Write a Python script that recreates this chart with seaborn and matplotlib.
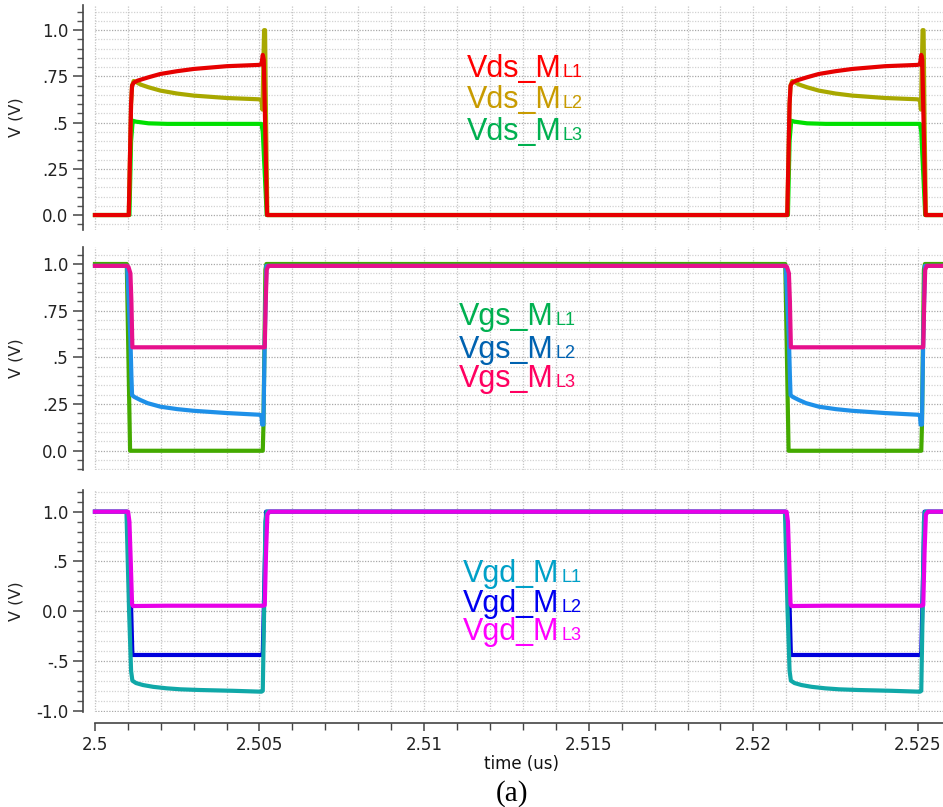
import numpy as np
import pandas as pd
import matplotlib
matplotlib.use("Agg")
import matplotlib.pyplot as plt
from matplotlib.ticker import MultipleLocator, FixedLocator, FixedFormatter
import seaborn as sns

# ---------------- data ----------------
pulse_starts = [2.501, 2.521]          # us, start of each pulse
t_first, t_last = 2.49994, 2.5260      # us, ends of the traces

# Panel 1 : Vds  (time after pulse start in us, voltage in V)
vds1_dt = [0.00003, 0.00010, 0.00013, 0.00018, 0.00030, 0.00063, 0.00099, 0.0015, 0.0020, 0.0030, 0.00398, 0.00406, 0.00410, 0.00413, 0.00423]
vds1_v  = [0.0,     0.60,    0.700,   0.716,   0.727,   0.745,   0.763,   0.778,  0.790,  0.805,  0.812,   0.815,   0.866,   0.84,    0.0]
vds2_dt = [0.00003, 0.00010, 0.00013, 0.00018, 0.00023, 0.00040, 0.00063, 0.00099, 0.0015, 0.0020, 0.0030, 0.00398, 0.00406, 0.00409, 0.00414, 0.00417, 0.00420, 0.00424]
vds2_v  = [0.0,     0.60,    0.700,   0.725,   0.721,   0.705,   0.691,   0.673,   0.657,  0.646,  0.633,  0.626,   0.620,   0.57,    1.0,     1.0,     0.5,     0.0]
vds3_dt = [0.00005, 0.00010, 0.00015, 0.00025, 0.00063, 0.00120, 0.00406, 0.00410, 0.00422]
vds3_v  = [0.0,     0.40,    0.510,   0.505,   0.496,   0.493,   0.493,   0.45,    0.0]

# Panel 2 : Vgs
vgs1_dt = [-0.00005, -0.00003, 0.00007, 0.00410, 0.00412, 0.00418, 0.00421]
vgs1_v  = [1.0,      1.0,      0.0,     0.0,     0.13,    0.97,    1.0]
vgs2_dt = [-0.00002, 0.00008, 0.00011, 0.00013, 0.00020, 0.00038, 0.00060, 0.00099, 0.0015, 0.0020, 0.0030, 0.00398, 0.00406, 0.00408, 0.00412, 0.00416, 0.00421]
vgs2_v  = [0.99,     0.60,    0.40,    0.298,   0.288,   0.272,   0.255,   0.236,   0.223,  0.214,  0.202,  0.193,   0.190,   0.14,    0.14,    0.60,    0.99]
vgs3_dt = [-0.00002, 0.00002, 0.00008, 0.00011, 0.00014, 0.00416, 0.00419, 0.00422, 0.00427]
vgs3_v  = [0.99,     0.985,   0.95,    0.80,    0.554,   0.554,   0.80,    0.97,    0.99]

# Panel 3 : Vgd
vgd1_dt = [-0.00004, 0.00004, 0.00010, 0.00014, 0.00025, 0.00046, 0.00077, 0.00118, 0.0016, 0.00219, 0.0032, 0.00406, 0.00410, 0.00414, 0.00418, 0.00422]
vgd1_v  = [1.0,      0.0,     -0.60,   -0.698,  -0.722,  -0.742,  -0.760,  -0.775,  -0.785, -0.792,  -0.800, -0.809,  -0.80,   0.0,     0.9,     1.0]
vgd2_dt = [-0.00002, 0.00008, 0.00014, 0.00405, 0.00410, 0.00415, 0.00420]
vgd2_v  = [1.0,      0.30,    -0.44,   -0.44,   -0.43,   0.30,    1.0]
vgd3_dt = [0.00001, 0.00005, 0.00009, 0.00013, 0.00016, 0.00119, 0.00410, 0.00416, 0.00420, 0.00424, 0.00430]
vgd3_v  = [1.0,     0.90,    0.50,    0.07,    0.052,   0.055,   0.055,   0.06,    0.60,    0.97,    1.0]

base_vds, base_vgs, base_vgs23, base_vgd = 0.0, 1.0, 0.99, 1.0

x_major_ticks = [2.5, 2.505, 2.51, 2.515, 2.52, 2.525]
x_tick_labels = ["2.5", "2.505", "2.51", "2.515", "2.52", "2.525"]
y_ticks_12 = [0.0, 0.25, 0.5, 0.75, 1.0]
y_labels_12 = ["0.0", ".25", ".5", ".75", "1.0"]
y_ticks_3 = [-1.0, -0.5, 0.0, 0.5, 1.0]
y_labels_3 = ["-1.0", "-.5", "0.0", ".5", "1.0"]

legend_names = [["Vds_M", "Vds_M", "Vds_M"], ["Vgs_M", "Vgs_M", "Vgs_M"], ["Vgd_M", "Vgd_M", "Vgd_M"]]
legend_subs = ["L1", "L2", "L3"]

# ---------------- styling ----------------
line_colors = [["#e60000", "#a8a800", "#00e000"],
               ["#44aa00", "#1e90e8", "#e6108c"],
               ["#10a8a8", "#0000dd", "#e800e8"]]
text_colors = [["#ff0000", "#c89b00", "#00b050"],
               ["#00b050", "#0062b0", "#ff0060"],
               ["#00a0c8", "#0000f0", "#ff00ff"]]
draw_orders = [[2, 1, 0], [0, 1, 2], [1, 0, 2]]


def build(dt, v, base, name):
    t = [t_first]
    vals = [base]
    for s in pulse_starts:
        t += [s + d for d in dt]
        vals += list(v)
    t.append(t_last)
    vals.append(base)
    return pd.DataFrame({"t": t, "v": vals, "name": name})


panels = [
    [(vds1_dt, vds1_v, base_vds), (vds2_dt, vds2_v, base_vds), (vds3_dt, vds3_v, base_vds)],
    [(vgs1_dt, vgs1_v, base_vgs), (vgs2_dt, vgs2_v, base_vgs23), (vgs3_dt, vgs3_v, base_vgs23)],
    [(vgd1_dt, vgd1_v, base_vgd), (vgd2_dt, vgd2_v, base_vgd), (vgd3_dt, vgd3_v, base_vgd)],
]

sns.set_style("white")
plt.rcParams["font.family"] = ["DejaVu Sans"]

W, H = 943, 807
fig = plt.figure(figsize=(W / 100, H / 100), dpi=100)

# axes rectangles in pixels (left, top, right, bottom)
rects = [(83, 5, 943, 230), (83, 247, 943, 470), (83, 490, 943, 712)]
ylims = [(-0.081, 1.136), (-0.103, 1.091), (-1.013, 1.218)]
xlim = (2.49964, 2.52576)

legend_left = [466.7, 459.3, 463.3]
legend_baselines = [[77.3, 108.3, 140.0], [325.0, 358.3, 386.7], [581.7, 611.7, 640.0]]

axes = []
for i, (l, t, r, b) in enumerate(rects):
    ax = fig.add_axes([l / W, 1 - b / H, (r - l) / W, (b - t) / H])
    axes.append(ax)
    ax.set_xlim(*xlim)
    ax.set_ylim(*ylims[i])
    minor_y = 0.05 if i < 2 else 0.1
    major_y = 0.25 if i < 2 else 0.5
    # horizontal dotted grid from 2.5 onwards
    yv = np.arange(-1.2, 1.3, minor_y)
    yv = yv[(yv >= ylims[i][0]) & (yv <= ylims[i][1])]
    for y in yv:
        major = abs(y / major_y - round(y / major_y)) < 1e-6
        ax.plot([2.5, xlim[1]], [y, y], ls=(0, (1.0, 1.2)),
                color="#a8a8a8" if major else "#d2d2d2", lw=0.9, zorder=0)
    ax.xaxis.set_minor_locator(MultipleLocator(0.001))
    ax.xaxis.set_major_locator(FixedLocator(x_major_ticks))
    ax.grid(axis="x", which="both", color="#c4c4c4", ls=(0, (1.0, 1.2)), lw=0.9)
    ax.set_axisbelow(True)

    for k in draw_orders[i]:
        dt, v, base = panels[i][k]
        df = build(dt, v, base, f"s{i}{k}")
        sns.lineplot(data=df, x="t", y="v", ax=ax, color=line_colors[i][k],
                     lw=3.0, sort=False, estimator=None, legend=False,
                     solid_capstyle="butt", solid_joinstyle="round")
    ax.set_xlabel("")
    ax.set_ylabel("V (V)", fontsize=11.5, color="#222222")
    ax.yaxis.set_label_coords(-0.069, 0.5)

    if i < 2:
        ax.yaxis.set_major_locator(FixedLocator(y_ticks_12))
        ax.yaxis.set_major_formatter(FixedFormatter(y_labels_12))
    else:
        ax.yaxis.set_major_locator(FixedLocator(y_ticks_3))
        ax.yaxis.set_major_formatter(FixedFormatter(y_labels_3))
    ax.yaxis.set_minor_locator(MultipleLocator(minor_y))

    for s in ["top", "right"]:
        ax.spines[s].set_visible(False)
    ax.spines["left"].set_color("#444444")
    ax.spines["left"].set_linewidth(1.2)
    ax.tick_params(axis="y", which="major", direction="out", length=7, width=1.1,
                   color="#444444", labelsize=12, pad=3.5, left=True, labelcolor="#222222")
    ax.tick_params(axis="y", which="minor", direction="out", length=4.5, width=1.0,
                   color="#555555", left=True)
    if i < 2:
        ax.spines["bottom"].set_visible(False)
        ax.tick_params(axis="x", which="both", bottom=False, labelbottom=False)
    else:
        ax.spines["bottom"].set_position(("outward", 8))
        ax.spines["bottom"].set_bounds(2.5, xlim[1])
        ax.spines["bottom"].set_color("#444444")
        ax.spines["bottom"].set_linewidth(1.2)
        ax.xaxis.set_major_formatter(FixedFormatter(x_tick_labels))
        ax.tick_params(axis="x", which="major", direction="out", length=6, width=1.1,
                       color="#444444", labelsize=12, pad=3, bottom=True, labelcolor="#222222")
        ax.tick_params(axis="x", which="minor", direction="out", length=5, width=1.0,
                       color="#444444", bottom=True)

# legend-like labels with a smaller suffix on the same baseline
renderer = fig.canvas.get_renderer()
for i in range(3):
    for k in range(3):
        x0 = legend_left[i]
        yb = H - legend_baselines[i][k]
        txt = fig.text(x0 / W, yb / H, legend_names[i][k], color=text_colors[i][k],
                       fontsize=22, family=["Liberation Sans", "DejaVu Sans"],
                       ha="left", va="baseline")
        ext = txt.get_window_extent(renderer)
        fig.text((ext.x1 + 1.5) / W, yb / H, legend_subs[k], color=text_colors[i][k],
                 fontsize=13, family=["Liberation Sans", "DejaVu Sans"],
                 ha="left", va="baseline")

fig.text(521.7 / W, 1 - 769 / H, "time (us)", fontsize=12, ha="center", va="baseline",
         color="#111111")
fig.text(511.7 / W, 1 - 801 / H, "(a)", fontsize=21, ha="center", va="baseline",
         family=["Liberation Serif", "DejaVu Serif"], color="#000000")

fig.savefig("out.png", dpi=100)
